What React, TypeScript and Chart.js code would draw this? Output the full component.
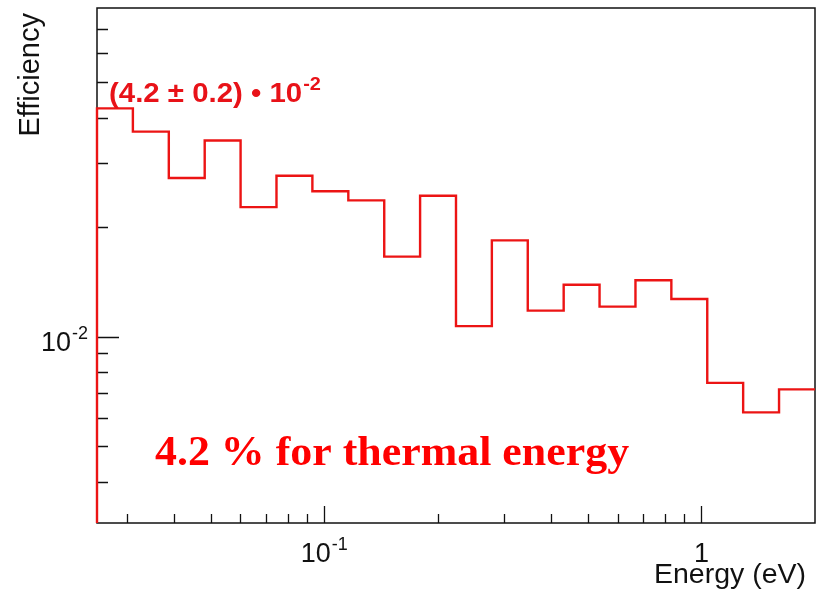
import React, { useEffect, useRef } from "react";
import { Chart, registerables } from "chart.js";

Chart.register(...registerables);

// ---- data ----
const binEdges = [
  0.025, 0.03112, 0.03875, 0.04824, 0.06005, 0.07476, 0.09307, 0.1159, 0.1443,
  0.1796, 0.2236, 0.2783, 0.3465, 0.4314, 0.537, 0.6686, 0.8323, 1.0362, 1.29,
  1.6059, 2.0,
];
const efficiency = [
  0.0424, 0.0366, 0.0273, 0.0346, 0.0227, 0.0277, 0.0251, 0.0237, 0.0166,
  0.0244, 0.0107, 0.0184, 0.0118, 0.0139, 0.0121, 0.0143, 0.0127, 0.00747,
  0.0062, 0.00717,
];
const xRange = [0.025, 2];
const yRange = [0.00308, 0.08];
const xMajorTicks = [0.1, 1];
const xMinorTicks = [0.03, 0.04, 0.05, 0.06, 0.07, 0.08, 0.09, 0.2, 0.3, 0.4, 0.5, 0.6, 0.7, 0.8, 0.9];
const yMajorTicks = [0.01];
const yMinorTicks = [0.004, 0.005, 0.006, 0.007, 0.008, 0.009, 0.02, 0.03, 0.04, 0.05, 0.06, 0.07];
const xTickLabels = [
  { value: 0.1, base: "10", exp: "-1" },
  { value: 1, base: "1", exp: "" },
];
const yTickLabels = [{ value: 0.01, base: "10", exp: "-2" }];
const xTitle = "Energy (eV)";
const yTitle = "Efficiency";
const resultLabel = { base: "(4.2 \u00b1 0.2) \u2022 10", exp: "-2" };
const noteLabel = "4.2 % for thermal energy";

const SANS = '"Liberation Sans", Arial, Helvetica, sans-serif';
const SERIF = '"Liberation Serif", "Times New Roman", serif';
const RED_LINE = "rgb(236,20,20)";
const RED_TEXT = "rgb(232,18,24)";

function drawSup(
  ctx: CanvasRenderingContext2D,
  base: string,
  exp: string,
  x: number,
  y: number,
  align: "left" | "center" | "right",
  baseFont: string,
  supFont: string,
  raise: number,
  gap: number
) {
  ctx.save();
  ctx.textAlign = "left";
  ctx.textBaseline = "alphabetic";
  ctx.font = baseFont;
  const wb = ctx.measureText(base).width;
  ctx.font = supFont;
  const we = exp ? ctx.measureText(exp).width + gap : 0;
  const total = wb + we;
  let x0 = x;
  if (align === "center") x0 = x - total / 2;
  else if (align === "right") x0 = x - total;
  ctx.font = baseFont;
  ctx.fillText(base, x0, y);
  if (exp) {
    ctx.font = supFont;
    ctx.fillText(exp, x0 + wb + gap, y - raise);
  }
  ctx.restore();
}

const decorations = {
  id: "rootStyle",
  beforeDatasetsDraw(chart: any) {
    const { ctx, chartArea } = chart;
    const { left, top, right, bottom } = chartArea;
    const xs = chart.scales.x;
    const ys = chart.scales.y;
    ctx.save();
    ctx.fillStyle = "#ffffff";
    ctx.fillRect(left, top, right - left, bottom - top);
    ctx.strokeStyle = "#111111";
    ctx.lineWidth = 1.5;
    ctx.strokeRect(left, top, right - left, bottom - top);
    ctx.lineWidth = 1.3;
    ctx.beginPath();
    for (const v of yMinorTicks) {
      const p = Math.round(ys.getPixelForValue(v)) + 0.5;
      ctx.moveTo(left, p);
      ctx.lineTo(left + 11, p);
    }
    for (const v of yMajorTicks) {
      const p = Math.round(ys.getPixelForValue(v)) + 0.5;
      ctx.moveTo(left, p);
      ctx.lineTo(left + 22, p);
    }
    for (const v of xMinorTicks) {
      const p = Math.round(xs.getPixelForValue(v)) + 0.5;
      ctx.moveTo(p, bottom);
      ctx.lineTo(p, bottom - 9);
    }
    for (const v of xMajorTicks) {
      const p = Math.round(xs.getPixelForValue(v)) + 0.5;
      ctx.moveTo(p, bottom);
      ctx.lineTo(p, bottom - 17);
    }
    ctx.stroke();
    ctx.restore();
  },
  afterDraw(chart: any) {
    const { ctx, chartArea } = chart;
    const { left, top, right, bottom } = chartArea;
    const xs = chart.scales.x;
    const ys = chart.scales.y;
    ctx.save();
    ctx.fillStyle = "#111111";
    for (const t of xTickLabels) {
      drawSup(ctx, t.base, t.exp, xs.getPixelForValue(t.value), bottom + 39, "center",
        `27px ${SANS}`, `18px ${SANS}`, 12, 1);
    }
    for (const t of yTickLabels) {
      drawSup(ctx, t.base, t.exp, left - 9, ys.getPixelForValue(t.value) + 14, "right",
        `27px ${SANS}`, `18px ${SANS}`, 12, 1);
    }
    // axis titles
    ctx.font = `28.5px ${SANS}`;
    ctx.textAlign = "right";
    ctx.textBaseline = "alphabetic";
    ctx.fillText(xTitle, right - 9, bottom + 60);
    ctx.save();
    ctx.translate(39, top + 5);
    ctx.rotate(-Math.PI / 2);
    ctx.textAlign = "right";
    ctx.font = `29px ${SANS}`;
    ctx.fillText(yTitle, 0, 0);
    ctx.restore();

    // annotations
    ctx.fillStyle = RED_TEXT;
    ctx.save();
    ctx.translate(left + 12, top + 94);
    ctx.scale(1.05, 1);
    drawSup(ctx, resultLabel.base, resultLabel.exp, 0, 0, "left",
      `bold 28px ${SANS}`, `bold 19px ${SANS}`, 12, 1);
    ctx.restore();

    ctx.fillStyle = "#ff0000";
    ctx.save();
    ctx.translate(left + 58, bottom - 58);
    ctx.scale(1.045, 1);
    ctx.font = `bold 42px ${SERIF}`;
    ctx.textAlign = "left";
    ctx.fillText(noteLabel, 0, 0);
    ctx.restore();
    ctx.restore();
  },
};

export default function App() {
  const ref = useRef<HTMLCanvasElement | null>(null);
  useEffect(() => {
    if (!ref.current) return;
    const points: { x: number; y: number }[] = [{ x: binEdges[0], y: yRange[0] }];
    efficiency.forEach((v, i) => points.push({ x: binEdges[i], y: v }));
    points.push({ x: binEdges[binEdges.length - 1], y: efficiency[efficiency.length - 1] });

    const chart = new Chart(ref.current, {
      type: "line",
      data: {
        datasets: [
          {
            data: points,
            borderColor: RED_LINE,
            borderWidth: 2.4,
            pointRadius: 0,
            stepped: "before",
            fill: false,
            tension: 0,
            clip: false,
          } as any,
        ],
      },
      options: {
        animation: false,
        responsive: false,
        maintainAspectRatio: false,
        events: [],
        layout: { padding: { left: 97, top: 8, right: 5, bottom: 73 } },
        plugins: { legend: { display: false }, tooltip: { enabled: false } },
        scales: {
          x: { type: "logarithmic", min: xRange[0], max: xRange[1], display: false },
          y: { type: "logarithmic", min: yRange[0], max: yRange[1], display: false },
        },
      },
      plugins: [decorations],
    });
    return () => chart.destroy();
  }, []);

  return (
    <div style={{ position: "fixed", left: 0, top: 0, width: 820, height: 596, background: "#ffffff" }}>
      <canvas ref={ref} width={820} height={596} style={{ width: 820, height: 596, display: "block" }} />
    </div>
  );
}
